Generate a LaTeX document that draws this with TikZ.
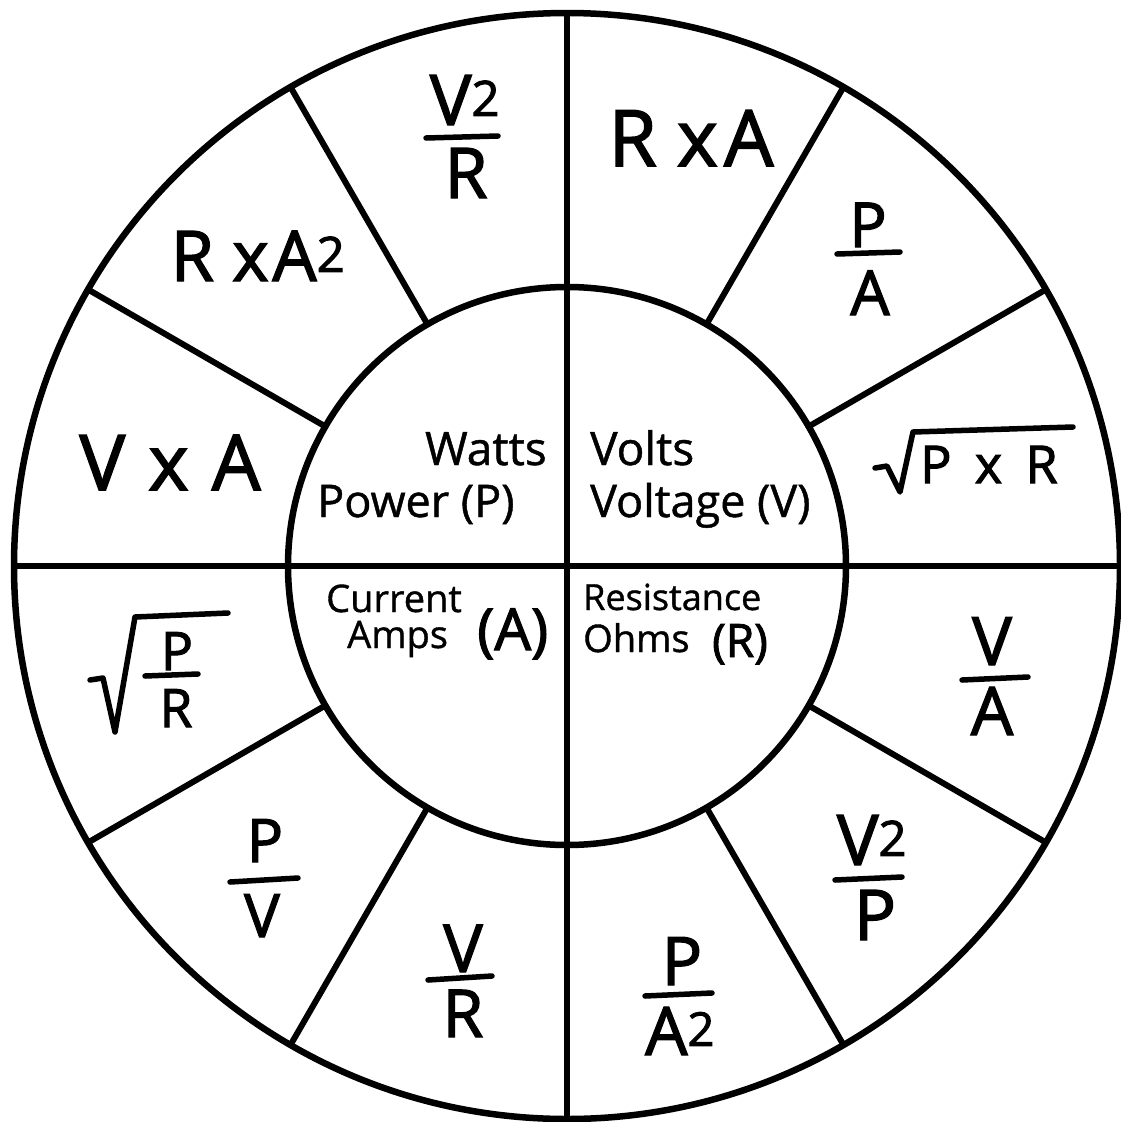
\documentclass[tikz,border=0pt]{standalone}
\usepackage{fontspec}
\setmainfont{Open Sans}
\newfontfamily\heavy{Open Sans}[FakeBold=2]
\newfontfamily\medium{Open Sans}[FakeBold=1]
\newcommand\fsz[1]{\fontsize{#1}{#1}\selectfont}
\begin{document}
\begin{tikzpicture}[x=1pt,y=-1pt,
  ring/.style={circle,draw,line width=6.5pt,inner sep=0pt,outer sep=0pt},
  spoke/.style={line width=6pt},
  bar/.style={line width=5.5pt,line cap=round},
  rad/.style={line width=5.5pt,line join=round,line cap=round},
  lbl/.style={inner sep=0pt,anchor=base},
  lblw/.style={inner sep=0pt,anchor=base west},
  lble/.style={inner sep=0pt,anchor=base east}]
\useasboundingbox (0,0) rectangle (1120,1122);
\fill[white] (0,0) rectangle (1120,1122);
\node[ring,minimum size=1106pt] (outer) at (567,566) {};
\node[ring,minimum size=558pt] (inner) at (567,566) {};
\foreach \a in {30,60,120,150,210,240,300,330}
  \draw[spoke] (inner.\a) -- (outer.\a);
\draw[spoke] (outer.90) -- (outer.270);
\draw[spoke] (outer.180) -- (outer.0);

% inner quadrants
\node[lble,font=\medium\fsz{46}] (watts) at (547,465) {Watts};
\node[lblw,font=\medium\fsz{45}] (power) at (317,517) {Power (P)};
\node[lblw,font=\medium\fsz{46}] (volts) at (590,465) {Volts};
\node[lblw,font=\medium\fsz{45}] (voltage) at (590,517) {Voltage (V)};
\node[lblw,font=\medium\fsz{38}] (current) at (326,612) {Current};
\node[lblw,font=\medium\fsz{38}] (amps) at (347,648) {Amps};
\node[lblw,font=\heavy\fsz{58}] (asym) at (477,650) {(A)};
\node[lblw,font=\medium\fsz{36}] (resist) at (583,610) {Resistance};
\node[lblw,font=\medium\fsz{38}] (ohms) at (583,652) {Ohms};
\node[lblw,font=\heavy\fsz{46}] (rsym) at (712,657) {(R)};

% outer segments
\node[lbl,font=\heavy\fsz{70}] (v2r-n) at (465,125) {V\textsuperscript{2}};
\draw[bar] (426,138) -- (498,136);
\node[lbl,font=\heavy\fsz{70}] (v2r-d) at (466,198) {R};

\node[lbl,font=\heavy\fsz{78}] (rxa) at (691,166) {R x\hspace{0.08em}A};

\node[lbl,font=\heavy\fsz{70}] (rxa2) at (258,281) {R x\hspace{0.05em}A\textsuperscript{2}};

\node[lbl,font=\heavy\fsz{62}] (pa-n) at (868,247) {P};
\draw[bar] (837,254) -- (900,252);
\node[lbl,font=\heavy\fsz{62}] (pa-d) at (870,315) {A};

\node[lbl,font=\heavy\fsz{77}] (vxa) at (170,490) {V\hspace{0.3em}x\hspace{0.3em}A};

\node[lblw,font=\heavy\fsz{52}] (pxr) at (920,483) {P\hspace{0.45em}x\hspace{0.45em}R};
\draw[rad] (875,468) -- (887,466) -- (900,492) -- (913,432) -- (1073,427);

\node[lbl,font=\heavy\fsz{53}] (spr-n) at (177,670) {P};
\draw[bar] (145,676) -- (198,674);
\node[lbl,font=\heavy\fsz{53}] (spr-d) at (176,727) {R};
\draw[rad] (90,680) -- (103,678) -- (115,732) -- (135,617) -- (228,613);

\node[lbl,font=\heavy\fsz{67}] (va-n) at (992,665) {V};
\draw[bar] (962,680) -- (1028,677);
\node[lbl,font=\heavy\fsz{67}] (va-d) at (992,735) {A};

\node[lbl,font=\heavy\fsz{60}] (pv-n) at (265,862) {P};
\draw[bar] (230,882) -- (298,878);
\node[lbl,font=\heavy\fsz{60}] (pv-d) at (262,937) {V};

\node[lbl,font=\heavy\fsz{70}] (v2p-n) at (872,865) {V\textsuperscript{2}};
\draw[bar] (835,880) -- (902,877);
\node[lbl,font=\heavy\fsz{70}] (v2p-d) at (875,940) {P};

\node[lbl,font=\heavy\fsz{66}] (vr-n) at (463,972) {V};
\draw[bar] (428,980) -- (492,976);
\node[lbl,font=\heavy\fsz{66}] (vr-d) at (463,1037) {R};

\node[lbl,font=\heavy\fsz{67}] (pa2-n) at (682,985) {P};
\draw[bar] (645,996) -- (712,993);
\node[lbl,font=\heavy\fsz{67}] (pa2-d) at (680,1055) {A\textsuperscript{2}};
\end{tikzpicture}
\end{document}
